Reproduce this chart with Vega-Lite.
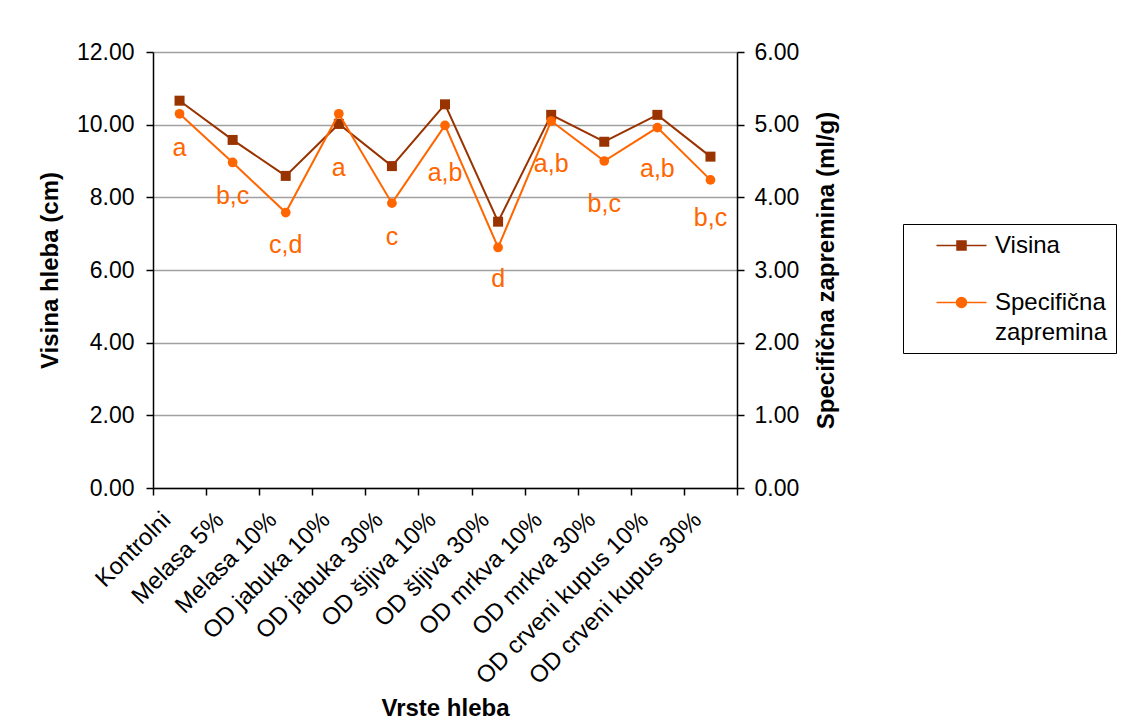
{
 "$schema": "https://vega.github.io/schema/vega-lite/v6.json",
 "width": 584,
 "height": 436,
 "autosize": {"type": "none"},
 "padding": {"left": 153, "top": 52, "right": 388, "bottom": 238},
 "background": "white",
 "config": {
  "font": "Liberation Sans",
  "view": {"stroke": null},
  "axis": {"labelFont": "Liberation Sans", "labelFontSize": 23, "labelColor": "#000000", "titleFont": "Liberation Sans", "titleFontSize": 24, "titleFontWeight": "bold", "titleColor": "#000000", "domainColor": "#000000", "domainWidth": 1.5, "tickColor": "#000000", "tickWidth": 1.5, "tickSize": 7}
 },
 "data": {"values": [
  {"cat": "Kontrolni", "visina": 10.66, "spec": 5.15, "label": "a", "label_y": 4.57},
  {"cat": "Melasa 5%", "visina": 9.58, "spec": 4.48, "label": "b,c", "label_y": 3.91},
  {"cat": "Melasa 10%", "visina": 8.59, "spec": 3.79, "label": "c,d", "label_y": 3.23},
  {"cat": "OD jabuka 10%", "visina": 10.02, "spec": 5.15, "label": "a", "label_y": 4.29},
  {"cat": "OD jabuka 30%", "visina": 8.86, "spec": 3.92, "label": "c", "label_y": 3.34},
  {"cat": "OD šljiva 10%", "visina": 10.56, "spec": 4.99, "label": "a,b", "label_y": 4.22},
  {"cat": "OD šljiva 30%", "visina": 7.33, "spec": 3.31, "label": "d", "label_y": 2.77},
  {"cat": "OD mrkva 10%", "visina": 10.27, "spec": 5.05, "label": "a,b", "label_y": 4.35},
  {"cat": "OD mrkva 30%", "visina": 9.53, "spec": 4.50, "label": "b,c", "label_y": 3.80},
  {"cat": "OD crveni kupus 10%", "visina": 10.27, "spec": 4.96, "label": "a,b", "label_y": 4.28},
  {"cat": "OD crveni kupus 30%", "visina": 9.12, "spec": 4.24, "label": "b,c", "label_y": 3.60}
 ]},
 "encoding": {
  "x": {"field": "cat", "type": "nominal", "sort": null, "bandPosition": 0.5,
   "scale": {"type": "band", "paddingInner": 0, "paddingOuter": 0},
   "axis": {"title": "Vrste hleba", "labelAngle": -45, "labelAlign": "right", "labelBaseline": "middle", "labelFontSize": 24, "labelPadding": 21, "labelOffset": -13, "tickBand": "extent", "grid": false, "titlePadding": 8, "labelLimit": 400}}
 },
 "layer": [
  {"layer": [
   {"mark": {"type": "line", "strokeWidth": 2},
    "encoding": {
     "y": {"field": "visina", "type": "quantitative", "scale": {"domain": [0, 12], "nice": false},
      "axis": {"title": "Visina hleba (cm)", "values": [0, 2, 4, 6, 8, 10, 12], "format": ".2f", "grid": true, "gridColor": "#a0a0a0", "gridWidth": 1.5, "labelPadding": 12, "titlePadding": 14}},
     "color": {"datum": "Visina", "type": "nominal",
      "scale": {"domain": ["Visina", "Specifična zapremina"], "range": ["#993300", "#FF6600"]},
      "legend": {"title": null, "orient": "none", "legendX": 750, "legendY": 172, "strokeColor": "#000000", "fillColor": "white", "padding": 8, "labelFontSize": 24, "labelFont": "Liberation Sans", "labelColor": "#000000", "symbolOffset": 37, "labelOffset": 20, "rowPadding": 31, "symbolSize": 625, "symbolStrokeWidth": 1.5, "labelLimit": 400,
       "labelExpr": "datum.label == 'Specifična zapremina' ? ['Specifična', 'zapremina'] : datum.label",
       "encode": {
        "labels": {"update": {"lineHeight": {"value": 30}}},
        "symbols": {"update": {
        "shape": {"signal": "datum.value == 'Visina' ? 'M-2,0H2M-0.36,-0.36H0.36V0.36H-0.36Z' : 'M-2,0H2M0.4,0A0.4,0.4,0,1,1,-0.4,0A0.4,0.4,0,1,1,0.4,0Z'"},
        "fill": {"signal": "datum.value == 'Visina' ? '#993300' : '#FF6600'"},
        "stroke": {"signal": "datum.value == 'Visina' ? '#993300' : '#FF6600'"},
        "strokeWidth": {"value": 1.5},
        "opacity": {"value": 1}
       }}}}}
    }},
   {"mark": {"type": "point", "shape": "square", "filled": true, "size": 100, "opacity": 1},
    "encoding": {
     "y": {"field": "visina", "type": "quantitative"},
     "color": {"datum": "Visina", "type": "nominal"}
    }}
  ]},
  {"layer": [
   {"mark": {"type": "line", "strokeWidth": 2},
    "encoding": {
     "y": {"field": "spec", "type": "quantitative", "scale": {"domain": [0, 6], "nice": false},
      "axis": {"orient": "right", "title": "Specifična zapremina (ml/g)", "values": [0, 1, 2, 3, 4, 5, 6], "format": ".2f", "grid": false, "labelPadding": 10, "titlePadding": 16, "titleAngle": 270, "titleBaseline": "top"}},
     "color": {"datum": "Specifična zapremina", "type": "nominal"}
    }},
   {"mark": {"type": "point", "shape": "circle", "filled": true, "size": 95, "opacity": 1},
    "encoding": {
     "y": {"field": "spec", "type": "quantitative"},
     "color": {"datum": "Specifična zapremina", "type": "nominal"}
    }},
   {"mark": {"type": "text", "fontSize": 25, "font": "Liberation Sans", "color": "#FF6600", "align": "center", "baseline": "alphabetic"},
    "encoding": {
     "y": {"field": "label_y", "type": "quantitative"},
     "text": {"field": "label", "type": "nominal"}
    }}
  ]}
 ],
 "resolve": {"scale": {"y": "independent"}}
}
